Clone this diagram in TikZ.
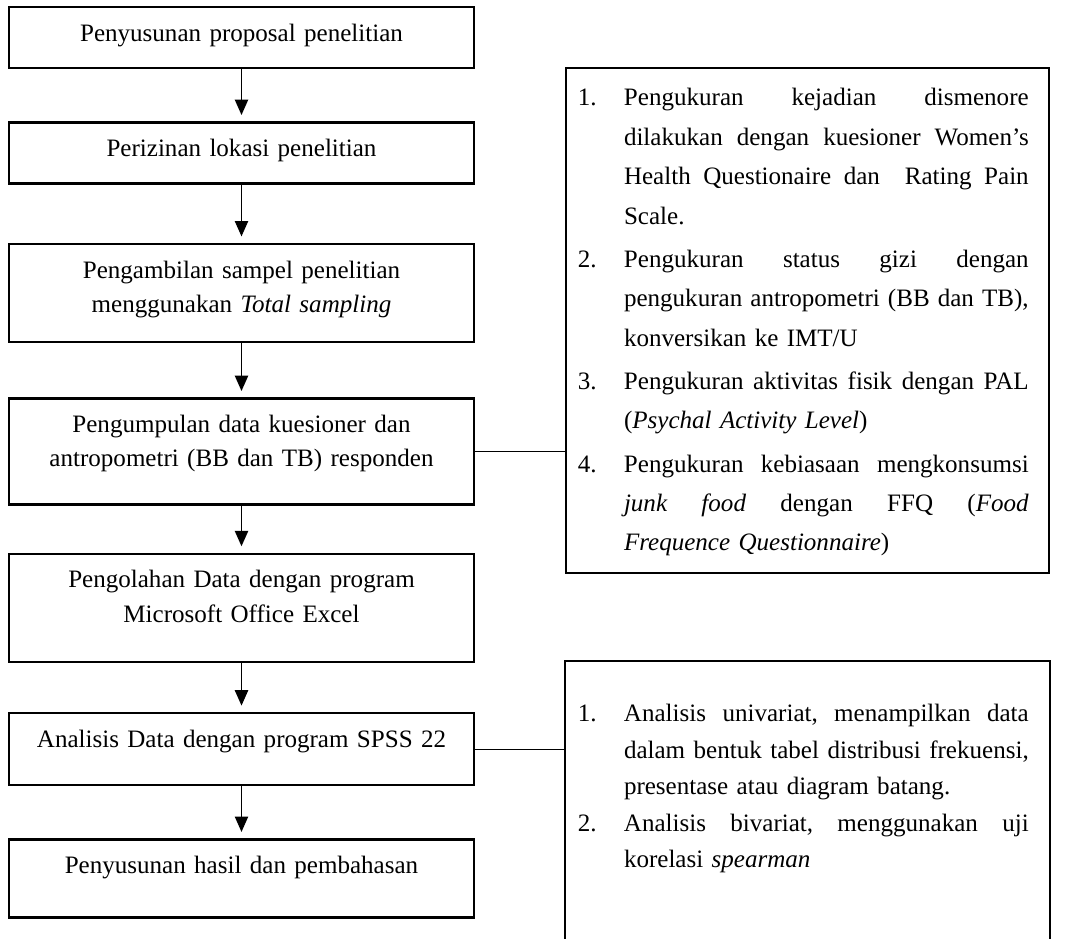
\documentclass[tikz,border=0pt]{standalone}
\usepackage{fontspec}
\setmainfont{Liberation Serif}
\usetikzlibrary{arrows.meta, positioning}

% numbered list lines: first line of an item, justified and left-aligned follow-up lines
\newcommand{\fullln}[1]{\hbox to 189pt{\frenchspacing\spaceskip=0.25em plus 1fil minus 0.08em\relax #1}}
\newcommand{\itemln}[2]{\makebox[21.5pt][l]{#1}\fullln{#2}}
\newcommand{\justln}[1]{\hspace*{21.5pt}\fullln{#1}}
\newcommand{\leftln}[1]{\hspace*{21.5pt}#1}

\begin{document}
\begin{tikzpicture}[
    x=0.467pt, y=-0.467pt,
    >={Triangle[width=6.2pt, length=7.2pt]},
    stepbox/.style={
        draw, line width=1.1pt, text width=205pt, minimum width=217pt,
        align=center, inner ysep=0pt, text height=15.9pt,
        font=\fontsize{11.7}{16}\selectfont
    },
    notebox/.style={
        line width=0.9pt, text width=214.4pt, inner xsep=5.6pt, inner ysep=0pt,
        align=left, anchor=north west
    },
    flow/.style={->, line width=0.7pt, shorten >=3pt},
    link/.style={line width=0.6pt},
]
\useasboundingbox (0,0) rectangle (1069,938);

% ── Steps ──
\node[stepbox, text depth=12.6pt, anchor=north] (proposal) at (241.5,6)
    {Penyusunan proposal penelitian};

\node[stepbox, text depth=12.6pt, below=24.3pt of proposal] (perizinan)
    {Perizinan lokasi penelitian};

\node[stepbox, text depth=29.9pt, below=27.1pt of perizinan] (sampel)
    {Pengambilan sampel penelitian\\
     menggunakan \textit{Total sampling}};

\node[stepbox, text depth=33.6pt, below=25.3pt of sampel] (pengumpulan)
    {Pengumpulan data kuesioner dan\\
     antropometri (BB dan TB) responden};

\node[stepbox, text depth=34.5pt, below=21.9pt of pengumpulan] (pengolahan)
    {Pengolahan Data dengan program\\
     Microsoft Office Excel};

\node[stepbox, text depth=17.7pt, below=22.9pt of pengolahan] (analisis)
    {Analisis Data dengan program SPSS 22};

\node[stepbox, text depth=20.5pt, below=24.3pt of analisis] (hasil)
    {Penyusunan hasil dan pembahasan};

% ── Flow arrows ──
\draw[flow] (proposal)    -- (perizinan);
\draw[flow] (perizinan)   -- (sampel);
\draw[flow] (sampel)      -- (pengumpulan);
\draw[flow] (pengumpulan) -- (pengolahan);
\draw[flow] (pengolahan)  -- (analisis);
\draw[flow] (analisis)    -- (hasil);

% ── Notes ──
\node[notebox, draw, text height=17.7pt, text depth=218pt,
      font=\fontsize{11.7}{18.4}\selectfont] (rincipengukuran) at (565,67)
    {\itemln{1.}{Pengukuran kejadian dismenore}\\
     \justln{dilakukan dengan kuesioner Women’s}\\
     \justln{Health Questionaire dan \ Rating Pain}\\
     \leftln{Scale.}\\[1.8pt]
     \itemln{2.}{Pengukuran status gizi dengan}\\
     \justln{pengukuran antropometri (BB dan TB),}\\
     \leftln{konversikan ke IMT/U}\\[1.8pt]
     \itemln{3.}{Pengukuran aktivitas fisik dengan PAL}\\
     \leftln{(\textit{Psychal Activity Level})}\\[1.8pt]
     \itemln{4.}{Pengukuran kebiasaan mengkonsumsi}\\
     \justln{\textit{junk food} dengan FFQ (\textit{Food}}\\
     \leftln{\textit{Frequence Questionnaire})}};

\node[notebox, text height=28pt, text depth=101.3pt,
      font=\fontsize{11.7}{17}\selectfont] (rincianalisis) at (565,661)
    {\itemln{1.}{Analisis univariat, menampilkan data}\\
     \justln{dalam bentuk tabel distribusi frekuensi,}\\
     \leftln{presentase atau diagram batang.}\\
     \itemln{2.}{Analisis bivariat, menggunakan uji}\\
     \leftln{korelasi \textit{spearman}}};

% open frame, cut off at the bottom
\draw[line width=0.9pt] (rincianalisis.south west) -- (rincianalisis.north west)
    -- (rincianalisis.north east) -- (rincianalisis.south east);

% ── Links to notes ──
\draw[link] (pengumpulan.east) -- (pengumpulan.east -| rincipengukuran.west);
\draw[link] (analisis.east)    -- (analisis.east -| rincianalisis.west);

\end{tikzpicture}
\end{document}
